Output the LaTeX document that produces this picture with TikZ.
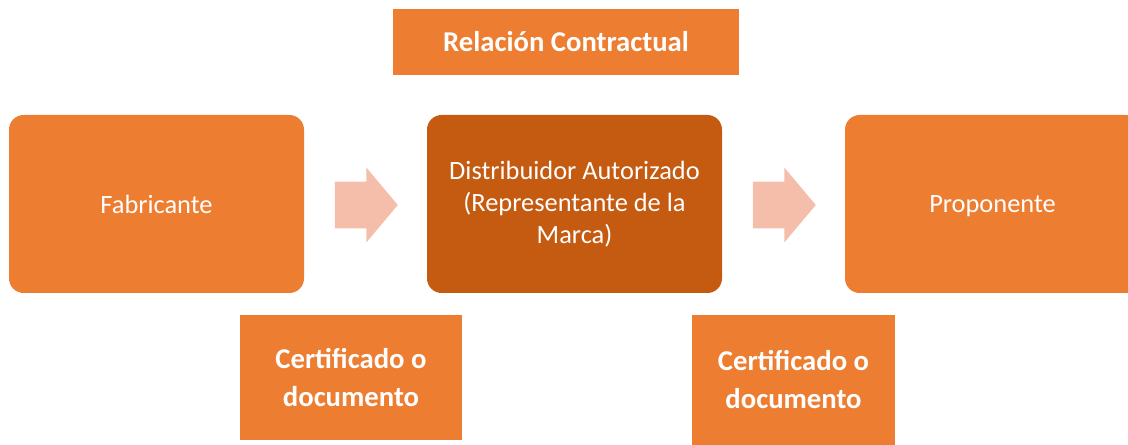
\documentclass[tikz,border=0pt]{standalone}
\usepackage{fontspec}
\setmainfont{Carlito}
\usetikzlibrary{shapes.arrows}

\definecolor{naranja}{HTML}{ED7D31}
\definecolor{naranjaosc}{HTML}{C55A11}
\definecolor{salmon}{HTML}{F4BEAA}

\tikzset{
  caja/.style={fill=naranja, draw=none, rounded corners=11pt, text=white,
    minimum width=221.25pt, minimum height=133.5pt, align=center,
    font=\fontsize{19.8pt}{24pt}\selectfont},
  etiqueta/.style={fill=naranja, draw=none, text=white, align=center,
    font=\fontsize{21.5pt}{28.5pt}\selectfont\bfseries},
  flecha/.style={single arrow, fill=salmon, draw=none, inner sep=0pt,
    inner ysep=17.25pt, minimum height=47.25pt, single arrow head extend=10.5pt,
    single arrow tip angle=100, single arrow head indent=0pt}
}

\begin{document}
\begin{tikzpicture}[x=0.75pt,y=-0.75pt]
\useasboundingbox (0,0) rectangle (1128,445);
\clip (0,0) rectangle (1128,445);
% fila principal
\node[caja] (fab) at (156.5,204) {Fabricante};
\node[caja, fill=naranjaosc] (dist) at (574.5,204) {Distribuidor Autorizado\\(Representante de la\\Marca)};
\node[caja, text depth=0pt] (prop) at (992.5,204) {Proponente};
% flechas entre cajas
\node[flecha] (f1) at (356.5,205) {};
\node[flecha] (f2) at (774.5,205) {};
% etiquetas
\node[etiqueta, minimum width=259.5pt, minimum height=49.5pt] (rel) at (566,42) {Relación Contractual};
\node[etiqueta, minimum width=166.5pt, minimum height=93.75pt] (cert1) at (351,377.5) {Certificado o\\documento};
\node[etiqueta, minimum width=152.25pt, minimum height=97.5pt] (cert2) at (793.5,380) {Certificado o\\documento};
\end{tikzpicture}
\end{document}
